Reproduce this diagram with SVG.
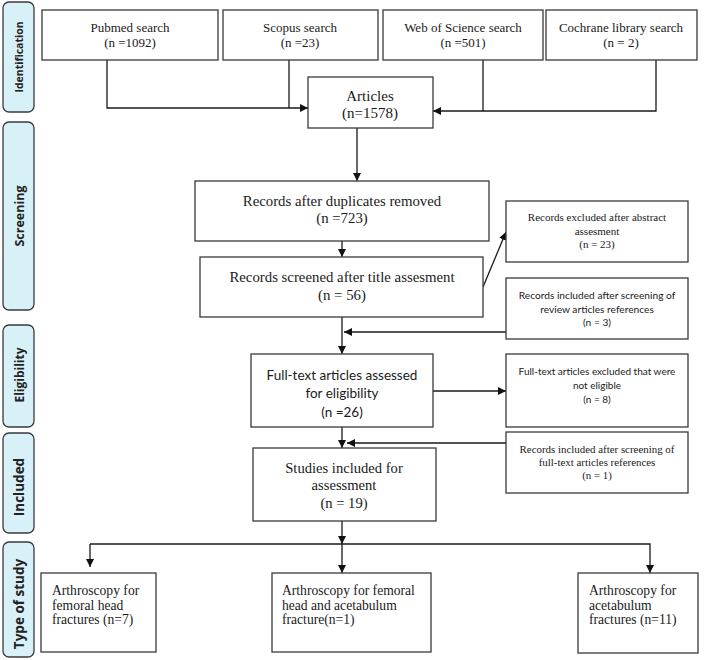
<svg xmlns="http://www.w3.org/2000/svg" width="709" height="660" viewBox="0 0 709 660">
<style>
.box{fill:#fff;stroke:#3a3a3a;stroke-width:1.3}
.side{fill:#d8f1f8;stroke:#3a3a3a;stroke-width:1.3}
.ln{fill:none;stroke:#1a1a1a;stroke-width:1.3}
.serif{font-family:"Liberation Serif","Times New Roman",serif;fill:#1a1a1a}
.sans{font-family:Lato,"Liberation Sans",sans-serif;fill:#1a1a1a}
.lab{font-family:"Open Sans","DejaVu Sans",sans-serif;font-weight:bold;fill:#222}
.c{text-anchor:middle}
</style>
<defs>
<marker id="ah" viewBox="0 0 10 10" refX="10" refY="5" markerWidth="8" markerHeight="8" markerUnits="userSpaceOnUse" orient="auto">
<path d="M0,0 L10,5 L0,10 z" fill="#111"/>
</marker>
</defs>

<g id="sidebar">
<g id="lab-identification"><rect class="side" x="3" y="2" width="31" height="110" rx="6"/><text class="lab c" font-size="10.5" transform="translate(23,57) rotate(-90)">Identification</text></g>
<g id="lab-screening"><rect class="side" x="3" y="122" width="31" height="188" rx="6"/><text class="lab c" font-size="12.5" transform="translate(23.5,216) rotate(-90)">Screening</text></g>
<g id="lab-eligibility"><rect class="side" x="3" y="325" width="31" height="102" rx="6"/><text class="lab c" font-size="12" transform="translate(23.5,375) rotate(-90)">Eligibility</text></g>
<g id="lab-included"><rect class="side" x="3" y="433" width="31" height="100" rx="6"/><text class="lab c" font-size="13.5" transform="translate(24,487) rotate(-90)">Included</text></g>
<g id="lab-type"><rect class="side" x="3" y="542" width="31" height="115" rx="6"/><text class="lab c" font-size="13.5" transform="translate(24,604) rotate(-90)">Type of study</text></g>
</g>

<g id="connectors">
<path class="ln" d="M107,60 V108 H308" marker-end="url(#ah)"/>
<path class="ln" d="M289,60 V108"/>
<path class="ln" d="M656,60 V111 H433" marker-end="url(#ah)"/>
<path class="ln" d="M483,60 V111"/>
<path class="ln" d="M357,128 V181" marker-end="url(#ah)"/>
<path class="ln" d="M342,241 V257" marker-end="url(#ah)"/>
<path class="ln" d="M483,287 L506,232" marker-end="url(#ah)"/>
<path class="ln" d="M342,317 V354" marker-end="url(#ah)"/>
<path class="ln" d="M506,332 H344" marker-end="url(#ah)"/>
<path class="ln" d="M433,391 H506" marker-end="url(#ah)"/>
<path class="ln" d="M342,427 V448" marker-end="url(#ah)"/>
<path class="ln" d="M506,443 H347" marker-end="url(#ah)"/>
<path class="ln" d="M342,521 V544" marker-end="url(#ah)"/>
<path class="ln" d="M342,544 V573" marker-end="url(#ah)"/>
<path class="ln" d="M90,544 H650 V573" marker-end="url(#ah)"/>
<path class="ln" d="M90,544 V567" marker-end="url(#ah)"/>
</g>

<g id="pubmed"><rect class="box" x="42" y="10" width="176" height="50"/><text class="serif c" font-size="13" x="130" y="32">Pubmed search</text><text class="serif c" font-size="13" x="130" y="47">(n =1092)</text></g>
<g id="scopus"><rect class="box" x="223" y="10" width="155" height="50"/><text class="serif c" font-size="13" x="300" y="32">Scopus search</text><text class="serif c" font-size="13" x="300" y="47">(n =23)</text></g>
<g id="wos"><rect class="box" x="383" y="10" width="160" height="50"/><text class="serif c" font-size="13" x="463" y="32">Web of Science search</text><text class="serif c" font-size="13" x="463" y="47">(n =501)</text></g>
<g id="cochrane"><rect class="box" x="546" y="10" width="151" height="50"/><text class="serif c" font-size="13" x="621" y="32">Cochrane library search</text><text class="serif c" font-size="13" x="621" y="47">(n = 2)</text></g>

<g id="articles"><rect class="box" x="308" y="77" width="125" height="51"/><text class="serif c" font-size="15" x="370" y="101">Articles</text><text class="serif c" font-size="15" x="370" y="118">(n=1578)</text></g>

<g id="dups"><rect class="box" x="195" y="181" width="294" height="60"/><text class="serif c" font-size="14.8" x="342" y="206">Records after duplicates removed</text><text class="serif c" font-size="14.8" x="342" y="223">(n =723)</text></g>

<g id="screened"><rect class="box" x="200" y="257" width="283" height="60"/><text class="serif c" font-size="14.8" x="342" y="282">Records screened after title assesment</text><text class="serif c" font-size="14.8" x="342" y="300">(n = 56)</text></g>

<g id="excl-abstract"><rect class="box" x="506" y="201" width="182" height="61"/><text class="serif c" font-size="11" x="597" y="221">Records excluded after abstract</text><text class="serif c" font-size="11" x="597" y="235">assesment</text><text class="serif c" font-size="11" x="597" y="248">(n =  23)</text></g>

<g id="incl-review"><rect class="box" x="506" y="278" width="182" height="61"/><text class="sans c" font-size="10.2" x="597" y="299">Records included after screening of</text><text class="sans c" font-size="10.2" x="597" y="313">review articles references</text><text class="sans c" font-size="10.2" x="597" y="326">(n = 3)</text></g>

<g id="fulltext"><rect class="box" x="251" y="354" width="182" height="73"/><text class="sans c" font-size="13.5" x="342" y="380">Full-text articles assessed</text><text class="sans c" font-size="13.5" x="342" y="398">for eligibility</text><text class="sans c" font-size="13.5" x="342" y="417">(n =26)</text></g>

<g id="ft-excluded"><rect class="box" x="506" y="354" width="182" height="73"/><text class="sans c" font-size="10" x="597" y="375">Full-text articles excluded that were</text><text class="sans c" font-size="10" x="597" y="389">not eligible</text><text class="sans c" font-size="10" x="597" y="403">(n = 8)</text></g>

<g id="ft-included"><rect class="box" x="506" y="432" width="182" height="61"/><text class="serif c" font-size="10.9" x="597" y="453">Records included after screening of</text><text class="serif c" font-size="10.9" x="597" y="466">full-text articles references</text><text class="serif c" font-size="10.9" x="597" y="479">(n = 1)</text></g>

<g id="studies"><rect class="box" x="253" y="448" width="183" height="73"/><text class="serif c" font-size="14.6" x="344" y="473">Studies included for</text><text class="serif c" font-size="14.6" x="344" y="490">assessment</text><text class="serif c" font-size="14.6" x="344" y="508">(n = 19)</text></g>

<g id="femoral-head"><rect class="box" x="41" y="573" width="115" height="79"/><text class="serif" font-size="13.6" x="52" y="595">Arthroscopy for</text><text class="serif" font-size="13.6" x="52" y="609.5">femoral head</text><text class="serif" font-size="13.6" x="52" y="624">fractures (n=7)</text></g>

<g id="both"><rect class="box" x="272" y="573" width="159" height="79"/><text class="serif" font-size="13.6" x="282" y="595">Arthroscopy for femoral</text><text class="serif" font-size="13.6" x="282" y="609.5">head and acetabulum</text><text class="serif" font-size="13.6" x="282" y="624">fracture(n=1)</text></g>

<g id="acetabulum"><rect class="box" x="578" y="573" width="120" height="80"/><text class="serif" font-size="13.6" x="589" y="595">Arthroscopy for</text><text class="serif" font-size="13.6" x="589" y="609.5">acetabulum</text><text class="serif" font-size="13.6" x="589" y="624">fractures (n=11)</text></g>
</svg>
